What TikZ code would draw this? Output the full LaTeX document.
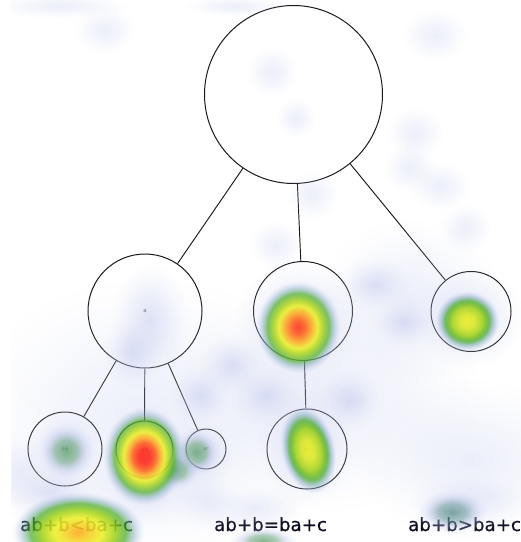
\documentclass[tikz,border=0pt]{standalone}
\usepackage{fontspec}
\newfontfamily\labelfont{DejaVu Sans}
\newfontfamily\captionfont{DejaVu Sans}[FakeBold=0.6]
\usetikzlibrary{fadings}

% heat-map palette
\definecolor{hRed}{RGB}{255,40,25}
\definecolor{hRedOr}{RGB}{255,95,30}
\definecolor{hOrange}{RGB}{255,170,35}
\definecolor{hYellow}{RGB}{238,240,40}
\definecolor{hLime}{RGB}{160,210,25}
\definecolor{hGreen}{RGB}{70,170,35}
\definecolor{hTealBlue}{RGB}{120,165,185}
\definecolor{hDull}{RGB}{80,155,85}
\definecolor{hTeal}{RGB}{70,130,120}
\definecolor{hHaze}{RGB}{180,190,235}
\definecolor{hHazeOut}{RGB}{220,225,248}
\definecolor{inkline}{RGB}{25,25,30}
\definecolor{inktext}{RGB}{10,10,30}

% radial heat shadings (25bp = edge of the filled ellipse)
\pgfdeclareradialshading{heatred}{\pgfpointorigin}{%
  color(0bp)=(hRed); color(3.5bp)=(hRed); color(7bp)=(hRedOr);
  color(9.5bp)=(hOrange); color(12.5bp)=(hYellow); color(15.5bp)=(hLime);
  color(18.5bp)=(hGreen); color(21.5bp)=(hTealBlue); color(25bp)=(hHaze);
  color(50bp)=(hHaze)}
\pgfdeclareradialshading{heatamber}{\pgfpointorigin}{%
  color(0bp)=(hRed!70!hRedOr); color(4bp)=(hRedOr); color(8bp)=(hOrange);
  color(11.5bp)=(hYellow); color(15bp)=(hLime); color(18.5bp)=(hGreen);
  color(21.5bp)=(hTealBlue); color(25bp)=(hHaze); color(50bp)=(hHaze)}
\pgfdeclareradialshading{heatorange}{\pgfpointorigin}{%
  color(0bp)=(hOrange); color(5bp)=(hYellow!60!hOrange); color(9bp)=(hYellow);
  color(14bp)=(hLime); color(18bp)=(hGreen); color(21.5bp)=(hTealBlue);
  color(25bp)=(hHaze); color(50bp)=(hHaze)}
\pgfdeclareradialshading{heatyellow}{\pgfpointorigin}{%
  color(0bp)=(hYellow); color(6bp)=(hYellow!75!hLime); color(12bp)=(hLime);
  color(17bp)=(hGreen); color(21bp)=(hTealBlue); color(25bp)=(hHaze);
  color(50bp)=(hHaze)}
\pgfdeclareradialshading{heatgreen}{\pgfpointorigin}{%
  color(0bp)=(hDull); color(10bp)=(hDull!75!hHaze); color(18bp)=(hHaze);
  color(25bp)=(hHazeOut); color(50bp)=(hHazeOut)}
\pgfdeclareradialshading{heatteal}{\pgfpointorigin}{%
  color(0bp)=(hTeal); color(10bp)=(hTeal!70!hHaze); color(18bp)=(hHaze);
  color(25bp)=(hHazeOut); color(50bp)=(hHazeOut)}
\pgfdeclareradialshading{heathaze}{\pgfpointorigin}{%
  color(0bp)=(hHaze); color(25bp)=(hHazeOut); color(50bp)=(hHazeOut)}

% opacity masks (white = opaque, black = transparent)
\pgfdeclareradialshading{fadestrongmask}{\pgfpointorigin}{%
  color(0bp)=(black!10); color(14bp)=(black!14); color(18bp)=(black!30);
  color(21bp)=(black!58); color(23.5bp)=(black!85); color(25bp)=(black);
  color(50bp)=(black)}
\pgfdeclareradialshading{fademidmask}{\pgfpointorigin}{%
  color(0bp)=(black!30); color(10bp)=(black!45);
  color(25bp)=(black); color(50bp)=(black)}
\pgfdeclareradialshading{fadesoftmask}{\pgfpointorigin}{%
  color(0bp)=(black!58); color(10bp)=(black!70);
  color(25bp)=(black); color(50bp)=(black)}
\pgfdeclareradialshading{fadefaintmask}{\pgfpointorigin}{%
  color(0bp)=(black!74); color(12bp)=(black!82);
  color(25bp)=(black); color(50bp)=(black)}
\pgfdeclarefading{fadestrong}{\pgfuseshading{fadestrongmask}}
\pgfdeclarefading{fademid}{\pgfuseshading{fademidmask}}
\pgfdeclarefading{fadesoft}{\pgfuseshading{fadesoftmask}}
\pgfdeclarefading{fadefaint}{\pgfuseshading{fadefaintmask}}

\tikzset{
  vtx/.style={circle, draw=inkline, line width=1pt, inner sep=0pt,
    font=\labelfont\fontsize{5.5}{5.5}\selectfont, text=black!75},
  edge/.style={draw=inkline, line width=0.95pt},
  caption/.style={anchor=base west, inner sep=0pt, text=inktext,
    font=\captionfont\fontsize{18.2}{20}\selectfont},
  hot/.style={shading=heatred, path fading=fadestrong},
  amber/.style={shading=heatamber, path fading=fadestrong},
  warm/.style={shading=heatorange, path fading=fadestrong},
  mild/.style={shading=heatyellow, path fading=fadestrong},
  cool/.style={shading=heatgreen, path fading=fademid},
  coolteal/.style={shading=heatteal, path fading=fademid},
  haze/.style={shading=heathaze, path fading=fadesoft},
  faint/.style={shading=heathaze, path fading=fadefaint},
}

\begin{document}
\begin{tikzpicture}[x=1pt, y=-1pt]
\useasboundingbox[fill=white] (0,0) rectangle (521,542);

% tree
\node[vtx, minimum size=178pt] (root) at (293.5,94.5) {};
\node[vtx, minimum size=114pt] (a)  at (145,311)   {a};
\node[vtx, minimum size=99pt]  (b)  at (303,311)   {b};
\node[vtx, minimum size=80pt]  (c)  at (471,311.5) {c};
\node[vtx, minimum size=74pt]  (aa) at (65,449)    {aa};
\node[vtx, minimum size=57pt]  (ab) at (144.5,449.5) {ab};
\node[vtx, minimum size=40pt]  (ac) at (206,449)   {ac};
\node[vtx, minimum size=80pt]  (ba) at (307,449)   {ba};

\draw[edge] (root) -- (a);
\draw[edge] (root) -- (b);
\draw[edge] (root) -- (c);
\draw[edge] (a) -- (aa);
\draw[edge] (a) -- (ab);
\draw[edge] (a) -- (ac);
\draw[edge] (b) -- (ba);

% captions
\node[caption] (lt) at (20,531)  {ab+b<ba+c};
\node[caption] (eq) at (214,531) {ab+b=ba+c};
\node[caption] (gt) at (408,531) {ab+b>ba+c};

% gaze overlay
\begin{scope}
\clip (11,0) rectangle (521,542);

% broad wash over the lower half
\foreach \x/\y/\rx/\ry in {
  150/420/190/140, 330/395/150/115, 470/460/110/80, 410/300/90/80}
  \shade[faint] (\x,\y) ellipse [x radius=\rx, y radius=\ry];

% scattered haze
\foreach \x/\y/\rx/\ry in {
  150/320/38/58, 132/352/30/36, 300/320/64/62, 306/448/46/58,
  232/365/34/30, 266/396/36/30, 375/284/36/26, 404/322/30/24,
  50/492/54/30, 145/482/56/46, 470/318/54/50, 65/449/40/40,
  200/455/34/34, 200/395/30/30, 350/400/30/30}
  \shade[haze] (\x,\y) ellipse [x radius=\rx, y radius=\ry];

\foreach \x/\y/\rx/\ry in {
  105/30/30/24, 272/72/26/26, 435/35/32/26, 415/133/28/26,
  410/168/26/24, 440/186/30/24, 465/228/26/24, 296/118/20/20,
  312/195/26/24, 276/245/26/24, 60/6/70/12, 235/6/50/10,
  470/500/60/26, 255/508/50/22, 20/470/34/34, 205/500/34/30}
  \shade[faint] (\x,\y) ellipse [x radius=\rx, y radius=\ry];

% dim spots
\shade[cool] (66,451) ellipse [x radius=28, y radius=28];
\shade[cool] (196,452) ellipse [x radius=24, y radius=24];
\shade[cool] (176,470) ellipse [x radius=24, y radius=20];
\shade[coolteal] (452,512) ellipse [x radius=36, y radius=22];
\shade[cool] (263,541) ellipse [x radius=34, y radius=15];

% bright spots
\shade[warm] (78,532) ellipse [x radius=66, y radius=40];
\shade[mild] (467,321) ellipse [x radius=32, y radius=30];
\begin{scope}[transform canvas={rotate around={12:(308,450)}}]
  \shade[mild] (308,450) ellipse [x radius=27, y radius=44];
\end{scope}
\shade[amber] (298,327) ellipse [x radius=42, y radius=46];
\shade[hot] (144,456) ellipse [x radius=41, y radius=49];
\end{scope}
\end{tikzpicture}
\end{document}
